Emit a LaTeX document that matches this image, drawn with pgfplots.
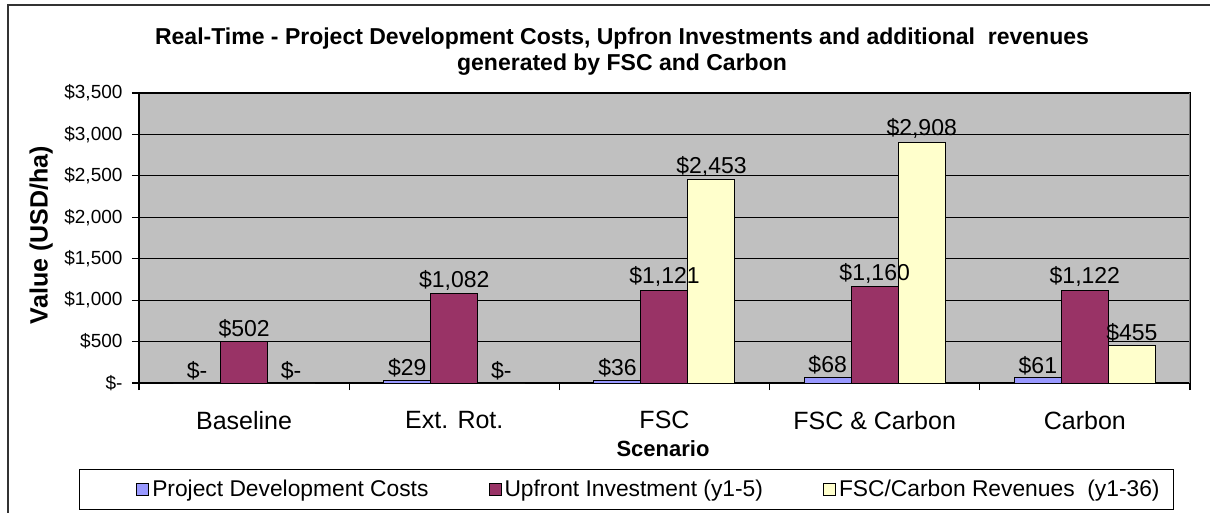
\documentclass[border=0pt]{standalone}
\usepackage{pgfplots}
\pgfplotsset{compat=1.18}
\usepackage{fontspec}
\setmainfont{Liberation Sans}
\definecolor{pdc}{HTML}{9999FF}
\definecolor{upi}{HTML}{993366}
\definecolor{rev}{HTML}{FFFFCC}
\definecolor{bg}{HTML}{C0C0C0}
\pgfplotsset{firstleg/.style={legend image code/.code={\path (-45pt,0pt); \draw[##1, line width=1pt, draw=black] (0pt,-6pt) rectangle (12pt,6pt);}}}
\begin{document}
\begin{tikzpicture}
\useasboundingbox (0,0) rectangle (1210pt,512pt);
\draw[line width=1.5pt, black!80] (8pt,-2pt) -- (8pt,507pt) -- (1212pt,507pt);
\begin{axis}[
 at={(139pt,129pt)}, anchor=south west,
 scale only axis, width=1051pt, height=290pt,
 xmin=-0.5, xmax=4.5, ymin=0, ymax=3500,
 axis background/.style={fill=bg},
 axis line style={black, line width=1.2pt},
 ybar, bar width=47pt,
 ytick={0,500,...,3500},
 yticklabels={{\$-},{\$500},{\$1,000},{\$1,500},{\$2,000},{\$2,500},{\$3,000},{\$3,500}},
 ymajorgrids, grid style={black, line width=1.2pt},
 xtick={0,1,2,3,4},
 xticklabels={Baseline, Ext. Rot., FSC, FSC \& Carbon, Carbon},
 tick align=outside, tick pos=left,
 major tick length=7pt,
 tick style={black, line width=1.2pt},
 major x tick style={draw=none},
 extra x ticks={-0.5,0.5,1.5,2.5,3.5,4.5},
 extra x tick labels={},
 extra x tick style={major x tick style={draw=black, line width=1.2pt}},
 yticklabel style={font=\fontsize{19}{19}\selectfont, xshift=-6pt},
 xticklabel style={font=\fontsize{25}{25}\selectfont, yshift=-18pt},
 title={Real-Time - Project Development Costs, Upfron Investments and additional~ revenues\\generated by FSC and Carbon},
 title style={font=\bfseries\fontsize{23}{26}\selectfont, align=center, at={(0.4596,1.121)}, anchor=center},
 xlabel={Scenario},
 xlabel style={font=\bfseries\fontsize{22}{22}\selectfont, at={(axis description cs:0.4986,-0.2276)}, anchor=center},
 ylabel={Value (USD/ha)},
 ylabel style={font=\bfseries\fontsize{25}{25}\selectfont, at={(axis description cs:-0.093,0.51)}, anchor=center, rotate=0},
 legend style={at={(0.4638,-0.367)}, anchor=center, draw=black, line width=1.2pt,
   font=\fontsize{22.8}{22.8}\selectfont, legend columns=3,
   /tikz/column 1/.style={column sep=1pt},
   /tikz/column 3/.style={column sep=1pt},
   /tikz/column 5/.style={column sep=1pt},
   /tikz/column 2/.style={column sep=58pt},
   /tikz/column 4/.style={column sep=58pt},
   inner xsep=12pt, inner ysep=9pt},
 legend image code/.code={\draw[#1, line width=1pt, draw=black] (0pt,-6pt) rectangle (12pt,6pt);},
]
\addplot[bar shift=-47pt, fill=pdc, draw=black, line width=1pt, firstleg]
  coordinates {(0,0) (1,29) (2,36) (3,68) (4,61)};
\addplot[bar shift=0pt, fill=upi, draw=black, line width=1pt] coordinates {(0,502) (1,1082) (2,1121) (3,1160) (4,1122)};
\addplot[bar shift=47pt, fill=rev, draw=black, line width=1pt] coordinates {(0,0) (1,0) (2,2453) (3,2908) (4,455)};
\legend{Project Development Costs, Upfront Investment (y1-5), FSC/Carbon Revenues~ (y1-36)}
\pgfplotsset{every node near coord/.append style={font=\fontsize{23}{23}\selectfont, black, inner sep=3pt}}
\addplot[bar shift=-47pt, draw=none, fill=none, forget plot, nodes near coords, point meta=explicit symbolic]
  coordinates {(0,0)[\$-] (1,29)[\$29] (2,36)[\$36] (3,68)[\$68] (4,61)[\$61]};
\addplot[bar shift=0pt, draw=none, fill=none, forget plot, nodes near coords, point meta=explicit symbolic]
  coordinates {(0,502)[\$502] (1,1082)[{\$1,082}] (2,1121)[{\$1,121}] (3,1160)[{\$1,160}] (4,1122)[{\$1,122}]};
\addplot[bar shift=47pt, draw=none, fill=none, forget plot, nodes near coords, point meta=explicit symbolic]
  coordinates {(0,0)[\$-] (1,0)[\$-] (2,2453)[{\$2,453}] (3,2908)[{\$2,908}] (4,455)[\$455]};
\draw[gray, line width=1.2pt] (rel axis cs:1,0) -- (rel axis cs:1,1);
\end{axis}
\end{tikzpicture}
\end{document}
